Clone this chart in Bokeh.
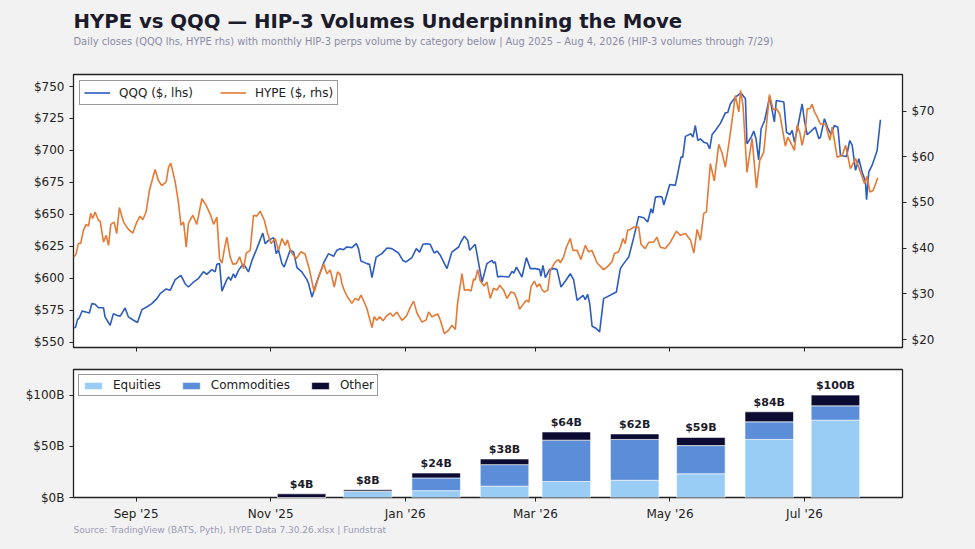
import numpy as np
import pandas as pd
from bokeh.plotting import figure
from bokeh.models import (Range1d, LinearAxis, FixedTicker, PrintfTickFormatter,
                          DatetimeTickFormatter, Legend, LegendItem, ColumnDataSource)
from bokeh.layouts import column
from bokeh.embed import file_html
from bokeh.resources import INLINE
from bokeh.core.properties import value

# ---------------- data ----------------
BASE = "2025-09-01"  # day offsets below are measured from this date

qqq_days = [-28.1, -27.4, -26.6, -25.7, -24.5, -22.4, -21.2, -20.1, -18.6, -17.1, -14.8, -14.1, -11.8, -10.3,
            -8.8, -7.3, -5.0, -3.5, -1.2, 0.6, 2.6, 4.8, 7.1, 9.4, 10.9, 13.6, 15.4, 17.7, 20.3, 22.2, 23.7,
            26.0, 28.3, 30.5, 32.0, 34.3, 35.8, 36.6, 37.8, 38.9, 41.1, 41.9, 42.9, 44.1, 44.9, 46.4, 48.4,
            49.4, 50.9, 52.5, 54.7, 57.4, 58.5, 60.0, 62.3, 63.5, 64.5, 66.1, 67.1, 69.8, 71.4, 72.9, 75.1,
            77.4, 78.2, 79.7, 81.6, 85.0, 87.2, 89.5, 91.0,
            92.5, 94.0, 95.5, 97.8, 99.8, 100.8, 101.9, 104.6, 105.8, 106.9, 108.8, 111.4, 113.7, 115.9,
            118.9, 120.9, 122.4, 125.0, 127.0, 128.5, 130.0, 131.8, 133.3, 135.1, 136.4, 137.9, 140.9,
            143.1, 146.2, 147.2, 148.8, 150.3, 151.2, 153.7, 156.8, 159.0, 161.3, 162.0, 162.8, 163.9,
            165.1, 168.9, 170.4, 171.2, 172.4, 174.9, 176.9, 178.7, 181.0, 182.9, 183.5, 184.4, 185.5,
            187.4, 189.3, 190.8, 192.6, 194.6, 196.8, 198.3, 199.9, 202.6, 203.6, 204.7, 205.6, 206.7,
            208.6, 210.1, 211.9, 217.7,
            219.5, 221.0, 223.3, 225.6, 227.8, 230.1, 231.9, 233.4, 234.2, 235.4, 237.3, 238.4, 239.2,
            241.9, 244.4, 245.5, 247.0, 247.8, 249.0, 251.5, 252.4, 253.5, 254.6, 255.8, 257.3, 258.8,
            260.0, 261.1, 262.6, 264.9, 267.1, 268.2, 269.4, 271.7, 274.2, 276.2, 276.9, 278.8, 280.0,
            281.0, 282.2, 283.3, 284.9, 287.2, 288.3, 289.3, 290.2, 293.6, 294.8, 296.3, 297.4, 298.4,
            299.6, 301.9, 302.9, 304.2, 307.9, 309.5, 310.2, 312.0, 313.5, 315.0, 316.5, 318.1, 319.3,
            322.0, 323.5, 324.6, 326.1, 327.6, 329.1, 330.6, 331.1, 332.1, 333.6, 335.9, 337.4]
qqq_close = [561.0, 562.0, 567.7, 569.3, 574.5, 573.4, 572.9, 580.2, 579.7, 577.0, 577.0, 569.8, 563.3, 572.4,
             571.1, 570.3, 576.8, 569.8, 567.2, 565.4, 575.5, 577.6, 580.2, 584.1, 588.0, 591.7, 590.6,
             599.0, 602.3, 595.8, 593.2, 597.1, 600.0, 605.2, 603.1, 606.8, 605.0, 611.0, 611.5, 590.0,
             599.0, 601.0, 598.4, 603.6, 600.5, 606.2, 611.0, 609.4, 605.0, 614.0, 623.2, 635.4, 627.0,
             629.7, 631.8, 619.3, 622.4, 611.5, 608.8, 621.9, 620.5, 608.4, 605.0, 599.0, 595.8, 585.4,
             595.8, 612.0, 619.3, 617.2, 622.0,
             623.2, 622.4, 624.5, 624.0, 627.1, 623.2, 613.5, 611.5, 610.9, 600.5, 616.6, 619.3, 623.7,
             623.2, 619.8, 614.0, 612.8, 616.2, 623.2, 620.5, 626.6, 627.1, 626.6, 619.8, 621.3, 618.0,
             607.6, 620.5, 624.5, 628.4, 633.0, 629.7, 621.9, 626.6, 597.1, 611.5, 614.0, 612.0, 612.8,
             601.0, 601.6, 601.0, 605.5, 604.1, 608.8, 601.0, 616.2, 607.6, 607.6, 606.8, 601.6, 610.2,
             600.5, 606.8, 607.6, 606.8, 593.2, 597.9, 603.6, 599.0, 582.8, 586.7, 583.3, 587.5, 580.2,
             562.5, 560.7, 558.1, 584.1, 589.3,
             607.6, 611.5, 616.6, 632.2, 648.4, 647.4, 644.0, 654.4, 651.0, 663.5, 664.0, 663.5, 657.4,
             673.4, 672.7, 681.8, 694.8, 694.8, 711.0, 713.0, 710.4, 719.5, 707.8, 709.1, 706.5, 705.7,
             701.3, 712.5, 715.6, 721.4, 729.4, 729.7, 736.5, 741.7, 745.0, 740.4, 705.2, 710.4, 715.1,
             709.1, 692.7, 717.0, 723.4, 742.2, 731.3, 722.3, 739.0, 737.9, 714.3, 712.3, 715.6, 706.5,
             715.6, 736.5, 724.0, 712.3, 718.2, 709.1, 710.4, 724.8, 717.7, 712.5, 719.5, 718.2, 696.0,
             695.3, 707.8, 703.9, 684.4, 693.5, 683.0, 676.0, 661.5, 683.0, 688.3, 700.0, 724.0]

hype_days = [-28.1, -27.2, -26.2, -25.1, -23.9, -22.7, -21.6, -20.6, -19.7, -18.6, -17.1, -16.3, -14.8, -13.6,
             -12.5, -11.5, -10.0, -8.8, -7.6, -5.7, -3.5, -1.5, 0.3, 1.8, 3.0, 4.5, 6.0, 8.6, 10.1, 11.6,
             13.6, 14.7, 15.7, 17.7, 19.2, 20.3, 21.5, 22.7, 23.7, 25.7, 27.5, 29.8, 31.7, 33.6, 35.1, 36.6,
             37.8, 38.9, 39.9, 41.1, 42.6, 43.8, 45.4, 46.9, 48.7, 49.9, 51.7, 53.2, 54.7, 56.2, 58.1, 59.6,
             61.1, 63.0, 64.5, 66.1, 67.6, 68.6, 70.1, 72.6, 74.7, 76.6, 78.6, 80.7, 82.7, 85.0, 86.5, 88.0,
             89.8, 91.3,
             92.5, 93.3, 94.3, 95.8, 97.8, 99.3, 100.8, 101.9, 103.4, 104.6, 106.9, 107.9, 109.1, 110.4,
             111.9, 113.4, 115.2, 116.4, 118.2, 120.5, 122.5, 124.3, 125.8, 127.3, 129.6, 131.5, 132.6,
             134.1, 136.7, 137.9, 139.7, 141.6, 143.1, 144.7, 145.7, 147.7, 148.8, 150.7, 151.8, 153.0,
             153.7, 154.8, 156.0, 157.8, 159.0, 160.5, 162.0, 163.6, 164.8, 166.6, 168.1, 169.9, 171.4,
             172.7, 173.8, 175.7, 176.9, 178.0, 179.0, 180.5, 181.7, 182.9, 184.0, 185.0, 186.6, 187.8,
             190.0, 191.5, 192.3, 193.8, 195.0, 196.8, 198.0, 199.9, 201.6, 203.6, 205.1, 206.6, 208.9,
             211.9, 213.8, 215.7, 216.8, 218.7,
             219.5, 220.7, 221.7, 222.8, 224.0, 225.5, 226.7, 227.8, 228.9, 230.8, 232.4, 234.6, 236.1,
             237.6, 239.9, 242.2, 244.9, 246.7, 249.0, 251.3, 252.8, 254.3, 255.8, 257.3, 258.5, 260.3,
             262.1, 264.1, 265.6, 267.1, 269.1, 270.1, 271.6, 273.2, 274.0, 275.1, 276.9, 279.2, 281.2,
             282.7, 284.5, 287.1, 288.8, 290.3, 291.8, 294.3, 295.4, 296.6, 298.4, 299.6, 300.8, 301.9,
             303.4, 304.2, 305.4, 306.4, 307.5, 308.7, 310.2, 312.5, 314.5, 315.5, 317.8, 320.1, 321.6,
             323.8, 326.1, 328.4, 330.2, 331.4, 332.6, 334.1, 335.2, 336.2]
hype_close = [38.1, 38.8, 41.0, 41.1, 43.9, 45.2, 44.8, 47.6, 46.5, 47.9, 46.1, 45.9, 41.3, 42.8,
              40.6, 45.2, 45.7, 43.2, 48.9, 45.7, 44.1, 43.3, 45.7, 47.0, 46.2, 47.9, 52.6, 57.2, 54.8, 53.7,
              54.5, 57.7, 58.6, 54.5, 49.9, 45.0, 45.7, 40.2, 45.4, 47.2, 45.2, 50.8, 49.4, 47.4, 45.2, 46.8,
              37.7, 36.7, 39.5, 42.4, 38.1, 36.5, 36.6, 38.1, 35.5, 38.9, 39.5, 47.2, 47.0, 48.1, 46.1, 43.2,
              41.0, 42.1, 39.5, 42.1, 40.6, 41.8, 39.2, 37.7, 39.2, 38.7, 35.2, 30.4, 33.7, 36.5, 34.4, 35.2,
              31.5, 34.8,
              34.2, 32.2, 30.8, 29.3, 27.9, 29.0, 28.6, 29.7, 28.2, 26.8, 22.6, 25.0, 24.2, 25.0,
              24.1, 25.1, 25.8, 25.1, 26.0, 24.2, 25.1, 27.1, 28.4, 25.8, 23.8, 24.3, 26.0,
              25.0, 25.6, 24.2, 21.3, 22.0, 23.1, 22.2, 27.9, 34.4, 30.8, 30.9, 30.6, 33.3,
              33.0, 35.3, 32.8, 31.7, 32.6, 29.0, 31.2, 30.8, 31.9, 30.8, 29.0, 30.4, 30.2,
              28.7, 26.6, 27.9, 28.6, 28.2, 31.5, 32.8, 31.5, 32.2, 30.9, 30.4, 30.8, 35.2,
              37.0, 37.5, 36.8, 38.1, 40.2, 42.1, 39.5, 39.5, 37.5, 40.6, 39.2, 39.5, 36.8,
              35.3, 36.0, 37.0, 38.8, 39.2,
              40.2, 42.1, 41.0, 43.9, 44.1, 44.6, 44.5, 44.6, 40.8, 39.9, 41.3, 41.3, 42.4,
              40.2, 39.9, 41.3, 43.7, 42.8, 43.2, 41.8, 38.9, 44.1, 41.7, 47.6, 47.9, 58.5,
              54.7, 62.7, 60.8, 57.7, 64.3, 67.8, 73.4, 69.8, 74.5, 71.2, 56.6, 64.0, 53.2,
              59.2, 61.0, 73.6, 70.3, 70.5, 69.3, 62.3, 64.3, 63.2, 61.4, 66.9, 65.4, 62.5,
              65.8, 70.5, 70.5, 71.5, 69.8, 68.7, 67.2, 67.1, 63.6, 66.5, 59.9, 60.3, 62.5,
              57.4, 59.6, 56.6, 54.1, 55.7, 52.3, 52.6, 54.1, 55.4]

vol_months = ["2025-11-15", "2025-12-15", "2026-01-15", "2026-02-15", "2026-03-15",
              "2026-04-15", "2026-05-15", "2026-06-15", "2026-07-15"]
equities = [0.0, 6.2, 6.7, 11.1, 15.6, 16.8, 23.2, 56.7, 75.5]
commodities = [0.0, 0.0, 12.4, 21.0, 40.4, 39.9, 27.5, 17.2, 14.0]
other = [3.6, 1.4, 4.8, 5.5, 8.0, 5.4, 8.0, 9.8, 10.5]

tick_dates = ["2025-09-01", "2025-11-01", "2026-01-01", "2026-03-01", "2026-05-01", "2026-07-01"]
qqq_ticks = [550, 575, 600, 625, 650, 675, 700, 725, 750]
hype_ticks = [20, 30, 40, 50, 60, 70]
vol_ticks = [0, 50, 100]

TITLE = "HYPE vs QQQ \u2014 HIP-3 Volumes Underpinning the Move"
SUBTITLE = ("Daily closes (QQQ lhs, HYPE rhs) with monthly HIP-3 perps volume by category below | "
            "Aug 2025 \u2013 Aug 4, 2026 (HIP-3 volumes through 7/29)")
SOURCE = "Source: TradingView (BATS, Pyth), HYPE Data 7.30.26.xlsx | Fundstrat"

# ---------------- styling ----------------
FONT = "DejaVu Sans"
BG = "#f2f2f2"
QQQ_C = "#2c5cbf"
HYPE_C = "#e47a35"
EQ_C = "#9acdf5"
CO_C = "#5b8dd8"
OT_C = "#0c0c33"
TXT = "#1b1b2b"
W = 968
LEFT = 73
RIGHT = 66

base = pd.Timestamp(BASE)
def to_dt(days):
    return base + pd.to_timedelta(np.asarray(days, dtype=float), unit="D")

x_start = base - pd.Timedelta(days=28.4)
x_end = base + pd.Timedelta(days=347.4)
tick_ms = [pd.Timestamp(d).value / 1e6 for d in tick_dates]
date_fmt = DatetimeTickFormatter(months="%b '%y", days="%b '%y", years="%b '%y", hours="%b '%y")


def style_axis(ax, size="12px"):
    ax.major_label_text_font = FONT
    ax.major_label_text_font_size = size
    ax.major_label_text_color = "#222222"
    ax.axis_line_color = None
    ax.major_tick_in = 0
    ax.major_tick_out = 4
    ax.major_tick_line_color = "#222222"
    ax.minor_tick_line_color = None


def blank_fig(height):
    # frame is aligned with the chart frames by the column layout; x=0 is the frame's left edge
    f = figure(width=W, height=height, x_range=Range1d(0, 1), y_range=Range1d(height, 0),
               output_backend="svg", toolbar_location=None, x_axis_location=None,
               y_axis_location=None, background_fill_color=BG, border_fill_color=BG,
               min_border=0, outline_line_color=None)
    f.grid.visible = False
    return f


# ---------------- header (title + subtitle) ----------------
hdr = blank_fig(70)
hdr.text(x=[0], y=[21], text=[TITLE], text_font=value(FONT), text_font_style="bold",
         text_font_size="19.7px", text_color=TXT, text_baseline="alphabetic", text_align="left")
hdr.text(x=[0], y=[40.5], text=[SUBTITLE], text_font=value(FONT), text_font_size="9.9px",
         text_color="#8a8aa6", text_baseline="alphabetic", text_align="left")

# ---------------- top figure ----------------
p1 = figure(width=W, height=290, x_axis_type="datetime",
            x_range=Range1d(x_start, x_end), y_range=Range1d(545.9, 759.4),
            output_backend="svg", toolbar_location=None,
            background_fill_color="white", border_fill_color=BG,
            min_border_left=LEFT, min_border_right=RIGHT, min_border_top=4, min_border_bottom=13)
p1.extra_y_ranges = {"hype": Range1d(18.25, 78.0)}
p1.grid.visible = False
p1.outline_line_color = "#222222"
p1.outline_line_width = 1.3

r_q = p1.line(to_dt(qqq_days), qqq_close, color=QQQ_C, line_width=1.6)
r_h = p1.line(to_dt(hype_days), hype_close, color=HYPE_C, line_width=1.6, y_range_name="hype")

p1.yaxis.ticker = FixedTicker(ticks=qqq_ticks)
p1.yaxis.formatter = PrintfTickFormatter(format="$%d")
style_axis(p1.yaxis[0])
p1.xaxis.ticker = FixedTicker(ticks=tick_ms)
p1.xaxis.formatter = date_fmt
style_axis(p1.xaxis[0], size="1px")
p1.xaxis.major_label_text_color = None
p1.xaxis.major_label_standoff = 0

ax_r = LinearAxis(y_range_name="hype", ticker=FixedTicker(ticks=hype_ticks),
                  formatter=PrintfTickFormatter(format="$%d"))
style_axis(ax_r)
p1.add_layout(ax_r, "right")

leg1 = Legend(items=[LegendItem(label="QQQ ($, lhs)", renderers=[r_q]),
                     LegendItem(label="HYPE ($, rhs)", renderers=[r_h])],
              orientation="horizontal", location="top_left", margin=6, padding=4,
              spacing=27, glyph_width=26, glyph_height=15, label_height=15, label_standoff=9,
              label_text_font=FONT, label_text_font_size="12px", label_text_color="#222222",
              border_line_color="#333333", border_line_width=1, background_fill_alpha=1)
p1.add_layout(leg1)

# ---------------- bottom figure ----------------
vol_src = ColumnDataSource(dict(month=pd.to_datetime(vol_months), Equities=equities,
                                Commodities=commodities, Other=other))
totals = [e + c + o for e, c, o in zip(equities, commodities, other)]
lab_src = ColumnDataSource(dict(month=pd.to_datetime(vol_months), total=totals,
                                text=["$%dB" % round(t) for t in totals]))

p2 = figure(width=W, height=163, x_axis_type="datetime",
            x_range=Range1d(x_start, x_end), y_range=Range1d(0, 125),
            output_backend="svg", toolbar_location=None,
            background_fill_color="white", border_fill_color=BG,
            min_border_left=LEFT, min_border_right=RIGHT, min_border_top=9, min_border_bottom=24)
p2.grid.visible = False
p2.outline_line_color = "#222222"
p2.outline_line_width = 1.3

bar_w = 22 * 24 * 3600 * 1000
rs = p2.vbar_stack(["Equities", "Commodities", "Other"], x="month", width=bar_w, source=vol_src,
                   color=[EQ_C, CO_C, OT_C], line_color="white", line_width=0.6)
p2.text(x="month", y="total", text="text", source=lab_src, text_font=value(FONT),
        text_font_style="bold", text_font_size="11px", text_align="center",
        text_baseline="bottom", y_offset=-3, text_color=TXT)

p2.yaxis.ticker = FixedTicker(ticks=vol_ticks)
p2.yaxis.formatter = PrintfTickFormatter(format="$%dB")
style_axis(p2.yaxis[0])
p2.xaxis.ticker = FixedTicker(ticks=tick_ms)
p2.xaxis.formatter = date_fmt
style_axis(p2.xaxis[0])

leg2 = Legend(items=[LegendItem(label="Equities", renderers=[rs[0]]),
                     LegendItem(label="Commodities", renderers=[rs[1]]),
                     LegendItem(label="Other", renderers=[rs[2]])],
              orientation="horizontal", location="top_left", margin=5, padding=3,
              spacing=19, glyph_width=22, glyph_height=9, label_height=14, label_standoff=9,
              label_text_font=FONT, label_text_font_size="12px", label_text_color="#222222",
              border_line_color="#333333", border_line_width=1)
p2.add_layout(leg2)

# ---------------- footer (source) ----------------
ftr = blank_fig(18)
ftr.text(x=[0], y=[6.5], text=[SOURCE], text_font=value(FONT), text_font_size="9px",
         text_color="#9a9ab6", text_baseline="alphabetic", text_align="left")

layout = column(hdr, p1, p2, ftr, spacing=0)
html = file_html(layout, INLINE, title="HYPE vs QQQ")
html = html.replace("<head>", "<head><style>html,body{background:%s;}</style>" % BG, 1)
open("out.html", "w").write(html)
